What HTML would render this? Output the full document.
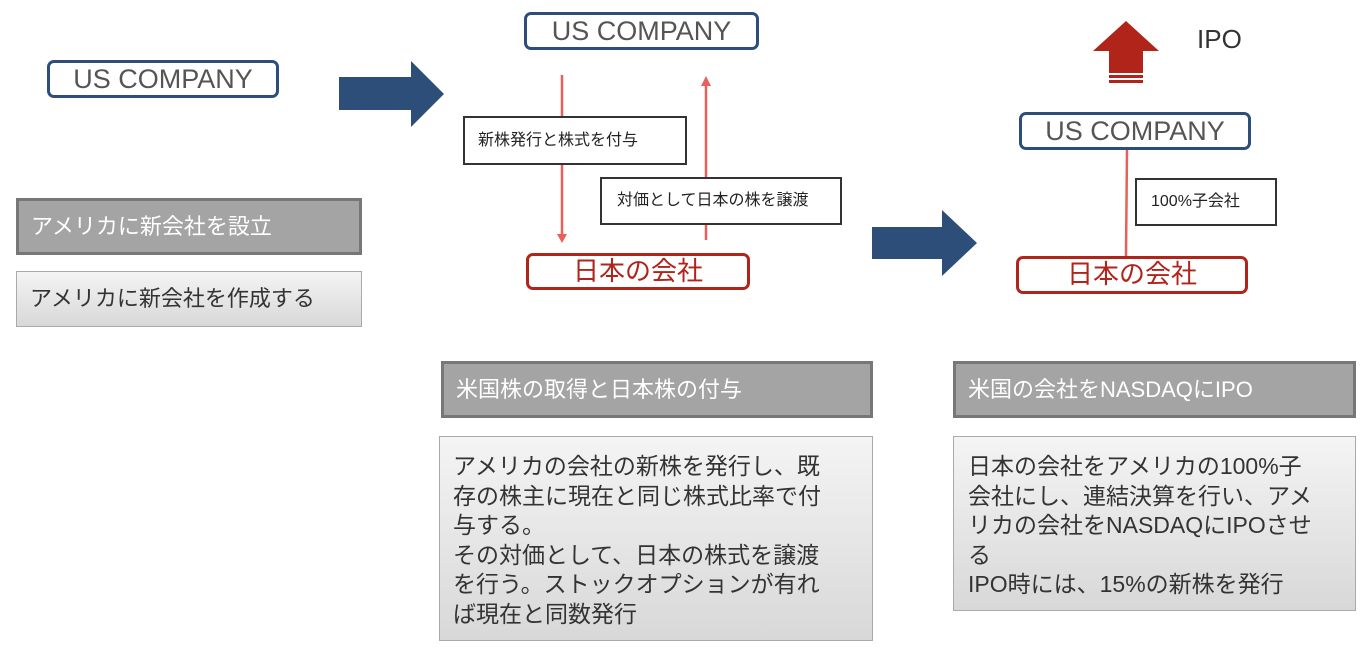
<!DOCTYPE html>
<html><head><meta charset="utf-8"><style>
body{margin:0;width:1368px;height:656px;background:#fff;position:relative;overflow:hidden;font-family:"Liberation Sans","Noto Sans CJK JP",sans-serif;}
.a{position:absolute;box-sizing:border-box;}
.us{border:3px solid #2c4e78;border-radius:7px;color:#555;font-size:27px;text-align:center;line-height:32px;background:#fff;}
.jp{border:3px solid #b0241a;border-radius:7px;color:#b0241a;font-size:26px;text-align:center;line-height:31px;background:#fff;}
.lb{border:2px solid #333;background:#fff;font-size:16px;color:#222;padding-left:13px;white-space:nowrap;}
.hd{background:#a4a4a4;border:3px solid #777;color:#fff;font-size:22px;padding-left:12px;white-space:nowrap;}
.tx{border:1px solid #aaa;background:linear-gradient(#f4f4f4,#d8d8d8);color:#333;font-size:23px;line-height:29.5px;white-space:nowrap;}
</style></head><body>
<svg class="a" style="left:0;top:0" width="1368" height="656">
<polygon points="339,77 411,77 411,61 444,94 411,127 411,110 339,110" fill="#2c4e78"/>
<polygon points="872,227 942,227 942,210 977,243 942,276 942,259 872,259" fill="#2c4e78"/>
<line x1="562" y1="75" x2="562" y2="236" stroke="#e9605a" stroke-width="2.5"/>
<polygon points="557,234 567,234 562,243" fill="#e9605a"/>
<line x1="706" y1="84" x2="706" y2="240" stroke="#e9605a" stroke-width="2.5"/>
<polygon points="701,86 711,86 706,76" fill="#e9605a"/>
<line x1="1127" y1="150" x2="1126" y2="256" stroke="#e9605a" stroke-width="2.5"/>
<polygon points="1093,51 1126,21 1159,51 1143,51 1143,73 1109,73 1109,51" fill="#b0241a"/>
<rect x="1109" y="75" width="34" height="3" fill="#b0241a"/>
<rect x="1109" y="80" width="34" height="3" fill="#b0241a"/>
</svg>
<div class="a us" style="left:47px;top:60px;width:232px;height:38px;">US COMPANY</div>
<div class="a us" style="left:524px;top:12px;width:235px;height:38px;">US COMPANY</div>
<div class="a us" style="left:1019px;top:112px;width:232px;height:38px;">US COMPANY</div>
<div class="a jp" style="left:526px;top:253px;width:224px;height:37px;">日本の会社</div>
<div class="a jp" style="left:1016px;top:256px;width:232px;height:38px;">日本の会社</div>
<div class="a lb" style="left:463px;top:116px;width:224px;height:49px;line-height:45px;">新株発行と株式を付与</div>
<div class="a lb" style="left:600px;top:177px;width:242px;height:48px;line-height:44px;padding-left:15px;">対価として日本の株を譲渡</div>
<div class="a lb" style="left:1135px;top:178px;width:142px;height:48px;line-height:44px;padding-left:14px;">100%子会社</div>
<div class="a" style="left:1197px;top:24px;font-size:26px;color:#333;">IPO</div>
<div class="a hd" style="left:16px;top:198px;width:346px;height:57px;line-height:51px;">アメリカに新会社を設立</div>
<div class="a tx" style="left:16px;top:271px;width:346px;height:56px;line-height:54px;padding-left:13px;font-size:22px;">アメリカに新会社を作成する</div>
<div class="a hd" style="left:441px;top:361px;width:432px;height:57px;line-height:51px;">米国株の取得と日本株の付与</div>
<div class="a tx" style="left:439px;top:436px;width:434px;height:205px;padding:15px 0 0 13px;">アメリカの会社の新株を発行し、既<br>存の株主に現在と同じ株式比率で付<br>与する。<br>その対価として、日本の株式を譲渡<br>を行う。ストックオプションが有れ<br>ば現在と同数発行</div>
<div class="a hd" style="left:953px;top:361px;width:403px;height:57px;line-height:51px;">米国の会社をNASDAQにIPO</div>
<div class="a tx" style="left:953px;top:436px;width:403px;height:175px;padding:15px 0 0 14px;">日本の会社をアメリカの100%子<br>会社にし、連結決算を行い、アメ<br>リカの会社をNASDAQにIPOさせ<br>る<br>IPO時には、15%の新株を発行</div>
</body></html>
